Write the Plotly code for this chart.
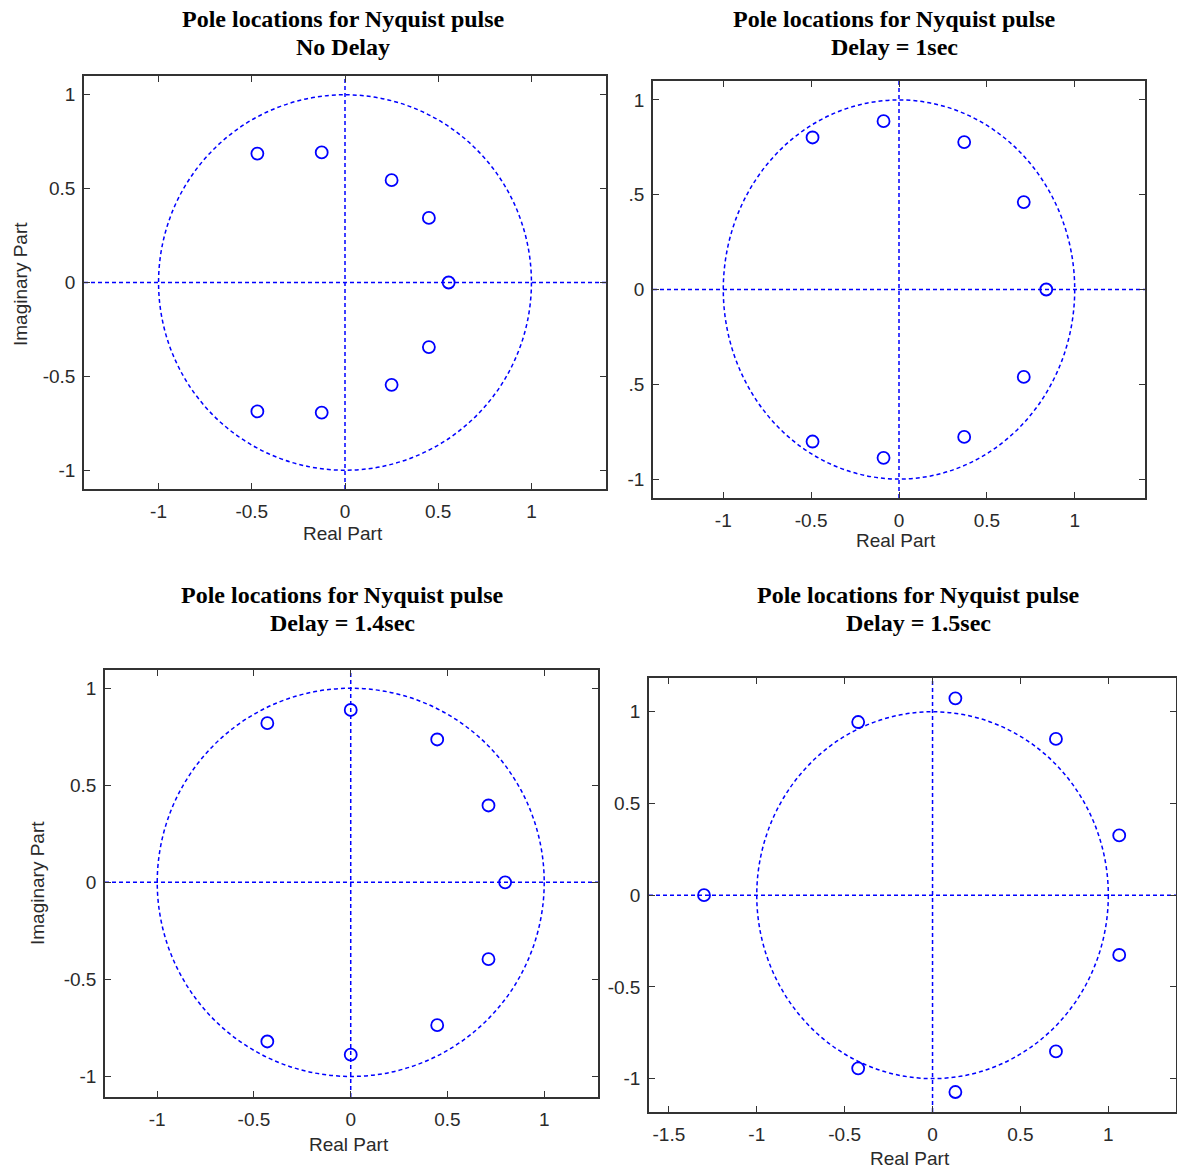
import plotly.graph_objects as go

W, H = 1177, 1171

# ---------------- data ----------------
p1_re = [-0.47, -0.125, 0.25, 0.45, 0.556, 0.45, 0.25, -0.125, -0.47]
p1_im = [0.687, 0.693, 0.545, 0.344, 0.0, -0.344, -0.545, -0.693, -0.687]

p2_re = [-0.492, -0.088, 0.371, 0.71, 0.838, 0.71, 0.371, -0.088, -0.492]
p2_im = [0.802, 0.888, 0.778, 0.461, 0.0, -0.461, -0.778, -0.888, -0.802]

p3_re = [-0.431, 0.0, 0.447, 0.712, 0.798, 0.712, 0.447, 0.0, -0.431]
p3_im = [0.82, 0.888, 0.736, 0.396, 0.0, -0.396, -0.736, -0.888, -0.82]

p4_re = [-1.30, -0.423, 0.13, 0.702, 1.062, 1.062, 0.702, 0.13, -0.423]
p4_im = [0.0, 0.944, 1.073, 0.852, 0.326, -0.326, -0.852, -1.073, -0.944]

titles_line1 = ["Pole locations for Nyquist pulse"] * 4
titles_line2 = ["No Delay", "Delay = 1sec", "Delay = 1.4sec", "Delay = 1.5sec"]

tick_vals = [-1, -0.5, 0, 0.5, 1]
tick_text = ["-1", "-0.5", "0", "0.5", "1"]
tick_text_cropped = ["-1", ".5", "0", ".5", "1"]
tick_vals_p4x = [-1.5, -1, -0.5, 0, 0.5, 1]
tick_text_p4x = ["-1.5", "-1", "-0.5", "0", "0.5", "1"]

x_label = "Real Part"
y_label = "Imaginary Part"

# ---------------- layout geometry (pixels) ----------------
panels = [
    dict(re=p1_re, im=p1_im, box=(84, 606, 76, 489), xr=[-1.4, 1.4], yr=[-1.1, 1.1],
         xt=(tick_vals, tick_text), yt=(tick_vals, tick_text),
         t1=(343, 19), t2=(343, 47), xl=(343, 533), yl=(20, 284)),
    dict(re=p2_re, im=p2_im, box=(653, 1145, 81, 498), xr=[-1.4, 1.4], yr=[-1.1, 1.1],
         xt=(tick_vals, tick_text), yt=(tick_vals, tick_text_cropped),
         t1=(894, 19), t2=(894, 47), xl=(896, 540), yl=None),
    dict(re=p3_re, im=p3_im, box=(105, 598, 670, 1097), xr=[-1.27, 1.278], yr=[-1.106, 1.094],
         xt=(tick_vals, tick_text), yt=(tick_vals, tick_text),
         t1=(342, 595), t2=(342, 623), xl=(349, 1144), yl=(37, 883)),
    dict(re=p4_re, im=p4_im, box=(649, 1176, 678, 1112), xr=[-1.613, 1.385], yr=[-1.182, 1.184],
         xt=(tick_vals_p4x, tick_text_p4x), yt=(tick_vals, tick_text),
         t1=(918, 595), t2=(918, 623), xl=(910, 1158), yl=None),
]

BLUE = "#0000ff"
FRAME = "#333333"
TICKFONT = dict(family="Liberation Sans, Arial, sans-serif", size=19, color="#2a2a2a")
TITLEFONT = dict(family="Liberation Serif, Times New Roman, serif", size=24, color="#000000")

fig = go.Figure()
shapes = []
annotations = []

for i, p in enumerate(panels):
    n = "" if i == 0 else str(i + 1)
    xa, ya = "x" + n, "y" + n
    l, r, t, b = p["box"]
    fig.add_trace(go.Scatter(
        x=p["re"], y=p["im"], mode="markers", xaxis=xa, yaxis=ya,
        marker=dict(symbol="circle-open", size=12, color=BLUE,
                    line=dict(width=1.8, color=BLUE)),
        showlegend=False, hoverinfo="x+y"))

    axis_common = dict(showline=True, linecolor=FRAME, linewidth=1.5, mirror="ticks",
                       ticks="inside", ticklen=6, tickwidth=1, tickcolor=FRAME,
                       showgrid=False, zeroline=False, tickfont=TICKFONT,
                       tickmode="array")
    fig.update_layout({
        ("xaxis" + n): dict(domain=[l / W, r / W], range=p["xr"], anchor=ya,
                            tickvals=p["xt"][0], ticktext=p["xt"][1],
                            ticklabelstandoff=4, **axis_common),
        ("yaxis" + n): dict(domain=[1 - b / H, 1 - t / H], range=p["yr"], anchor=xa,
                            tickvals=p["yt"][0], ticktext=p["yt"][1],
                            ticklabelstandoff=3, **axis_common),
    })

    dash = dict(color=BLUE, width=1.5, dash="4px,3px")
    shapes.append(dict(type="circle", xref=xa, yref=ya, x0=-1, y0=-1, x1=1, y1=1,
                       line=dash, layer="below"))
    shapes.append(dict(type="line", xref=xa + " domain", yref=ya, x0=0, x1=1, y0=0, y1=0,
                       line=dash, layer="below"))
    shapes.append(dict(type="line", xref=xa, yref=ya + " domain", x0=0, x1=0, y0=0, y1=1,
                       line=dash, layer="below"))

    for key, txt in (("t1", titles_line1[i]), ("t2", titles_line2[i])):
        px, py = p[key]
        annotations.append(dict(text="<b>" + txt + "</b>", x=px / W, y=1 - py / H,
                                xref="paper", yref="paper", xanchor="center",
                                yanchor="middle", showarrow=False, font=TITLEFONT))
    px, py = p["xl"]
    annotations.append(dict(text=x_label, x=px / W, y=1 - py / H, xref="paper",
                            yref="paper", xanchor="center", yanchor="middle",
                            showarrow=False, font=TICKFONT))
    if p["yl"] is not None:
        px, py = p["yl"]
        annotations.append(dict(text=y_label, x=px / W, y=1 - py / H, xref="paper",
                                yref="paper", xanchor="center", yanchor="middle",
                                textangle=-90, showarrow=False, font=TICKFONT))

fig.update_layout(width=W, height=H, margin=dict(l=0, r=0, t=0, b=0),
                  paper_bgcolor="white", plot_bgcolor="white", showlegend=False,
                  shapes=shapes, annotations=annotations)

fig.write_html("out.html",
               config={"displayModeBar": False},
               post_script="document.body.style.margin='0px';"
                           "document.body.style.overflow='hidden';"
                           "window.scrollTo(0,0);")
